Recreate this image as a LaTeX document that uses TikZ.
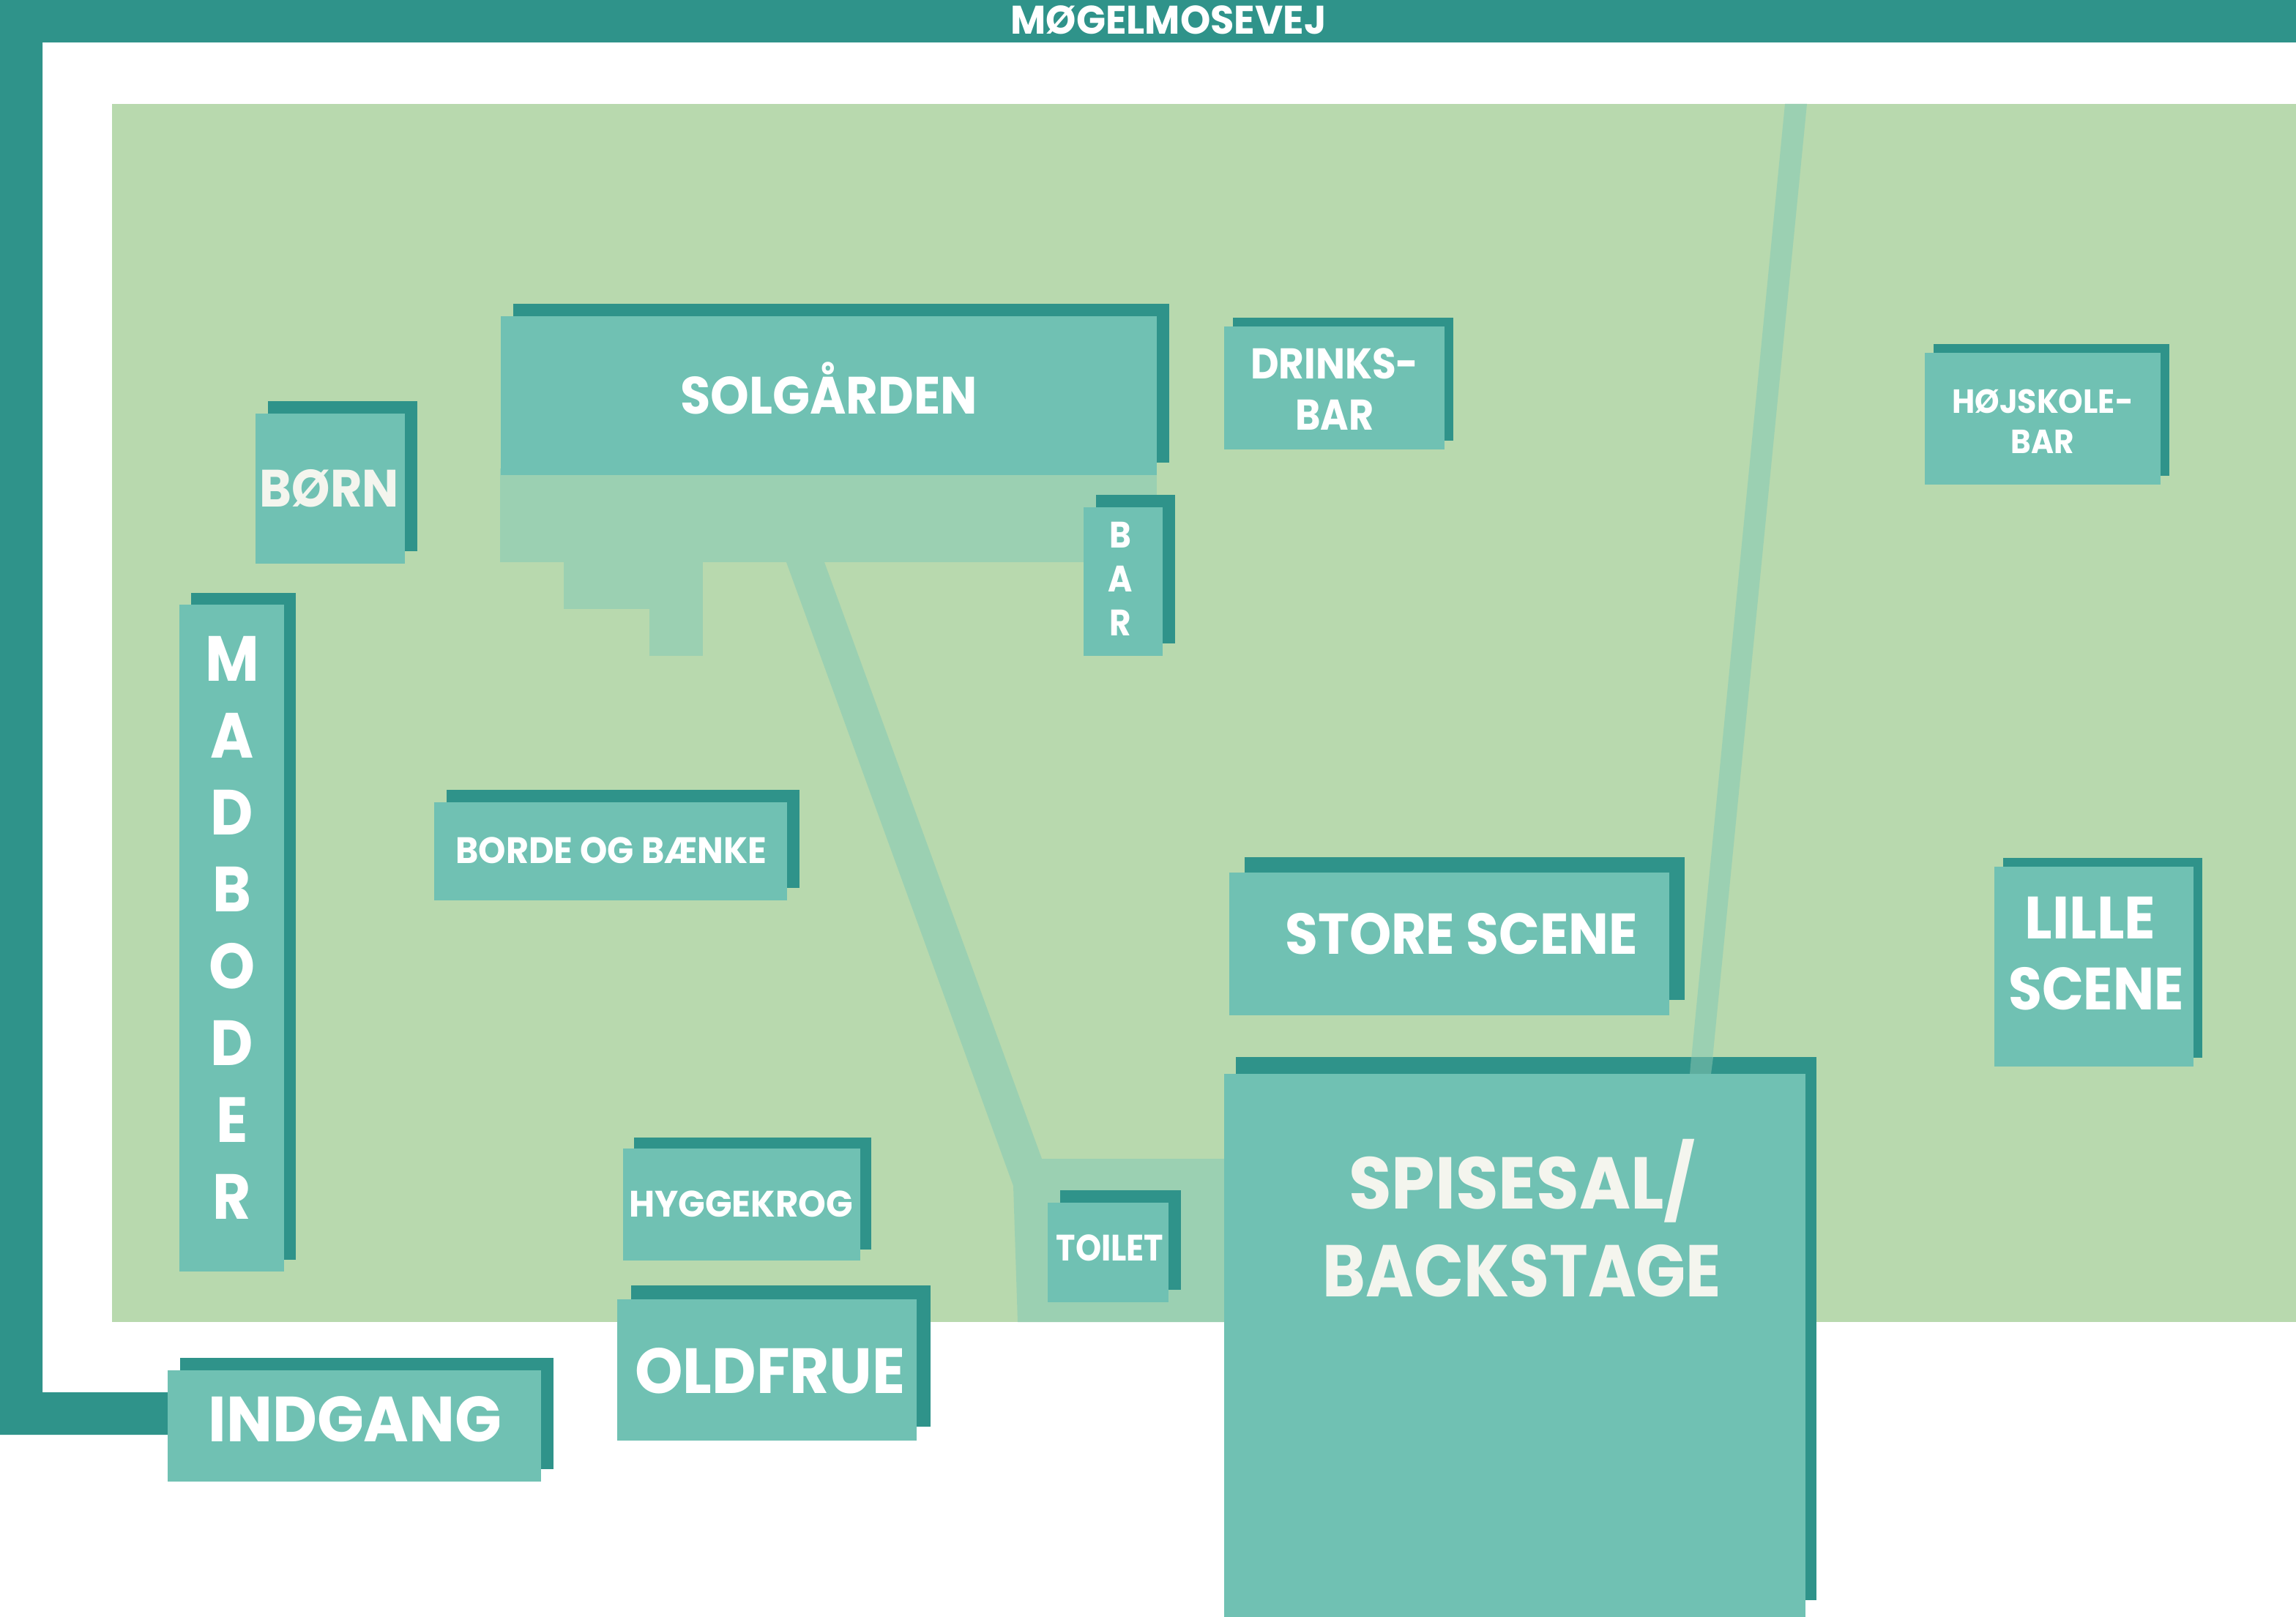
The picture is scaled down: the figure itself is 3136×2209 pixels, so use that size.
\documentclass[tikz,border=0pt]{standalone}
\usepackage{fontspec}
\setmainfont{Poppins}
\definecolor{grass}{HTML}{B8D9AE}
\definecolor{walk}{HTML}{9BD0B2}
\definecolor{walkdark}{HTML}{5DAD9E}
\definecolor{road}{HTML}{2F938A}
\definecolor{house}{HTML}{70C1B3}
\definecolor{cream}{HTML}{F4F5EE}
\tikzset{
	lab/.style={anchor=base, inner sep=0, text=white, transform shape, font=\bfseries\fontsize{#1}{#1}\selectfont},
	lab/.default=10
}
\newcommand{\house}[5]{% x1,y1,x2,y2 of the house, then the offset of its shadow
	\fill [road] (#1+#5,#2-#5) rectangle (#3+#5,#4-#5);
	\fill [house] (#1,#2) rectangle (#3,#4);
}

\begin{document}
\begin{tikzpicture}[x=0.01cm, y=-0.01cm]
	\useasboundingbox (0,0) rectangle (3136,2209);
	%ground
		\fill [grass] (153,142) rectangle (3136,1806);
		%road
		\fill [road] (0,0) -- (3136,0) -- (3136,58) -- (58,58) -- (58,1902) -- (240,1902) -- (240,1960) -- (0,1960) -- cycle;
		%paths
		\fill [walk] (683,640) rectangle (1580,768);
		\fill [walk] (770,768) rectangle (887,832);
		\fill [walk] (887,768) rectangle (960,896);
		\fill [walk] (1074,768) -- (1126,768) -- (1423,1583) -- (1680,1583) -- (1680,1806) -- (1390,1806) -- (1384,1620) -- cycle;
		\fill [walk] (2438,142) -- (2468,142) -- (2337,1467) -- (2308,1467) -- cycle;
	%houses
		\house{684}{432}{1580}{649}{17}
		\house{1480}{693}{1588}{896}{17}
		\house{349}{565}{553}{770}{17}
		\house{245}{826}{388}{1737}{16}
		\house{1672}{446}{1973}{614}{12}
		\house{2629}{482}{2951}{662}{12}
		\house{593}{1096}{1075}{1230}{17}
		\house{1679}{1192}{2280}{1387}{21}
		\house{2724}{1184}{2996}{1457}{12}
		\house{851}{1569}{1175}{1722}{15}
		\house{843}{1775}{1252}{1968}{19}
		\house{229}{1872}{739}{2024}{17}
		\house{1431}{1643}{1596}{1779}{17}
		%big hall
		\fill [road] (1688,1444) rectangle (2481,2186);
		\fill [walkdark] (2310,1444) -- (2340,1444) -- (2337,1467) -- (2308,1467) -- cycle;
		\fill [house] (1672,1467) rectangle (2466,2209);
	%labels
		\node [lab=15.5, xscale=.965] (vej) at (1596,47) {MØGELMOSEVEJ};
		\node [lab=20.4, xscale=.935] (solgaarden) at (1132,565) {SOLGÅRDEN};
		\node [lab=20.4, xscale=.93, text=cream] (born) at (450,692) {BØRN};
		\node [lab=16.7, xscale=.905] (drinks) at (1823,517) {DRINKS-};
		\node [lab=16.7, xscale=.89] (drinksbar) at (1823,587) {BAR};
		\node [lab=13, xscale=.935] (hojskole) at (2790,564) {HØJSKOLE-};
		\node [lab=13, xscale=.92] (hojskolebar) at (2790,619) {BAR};
		\node [lab=14.3, xscale=.945] (borde) at (835,1179) {BORDE OG BÆNKE};
		\node [lab=22.4, xscale=.925] (store) at (1996,1303) {STORE SCENE};
		\node [lab=23.2, xscale=.965] (lille) at (2855,1282) {LILLE};
		\node [lab=23.2, xscale=.915] (scene) at (2863,1379) {SCENE};
		\node [lab=14.3, xscale=.955] (hygge) at (1012,1662) {HYGGEKROG};
		\node [lab=24.8, xscale=.955] (oldfrue) at (1052,1903) {OLDFRUE};
		\node [lab=24.8, xscale=.96] (indgang) at (485,1969) {INDGANG};
		\node [lab=14.3, xscale=.89] (toilet) at (1516,1722) {TOILET};
		\node [lab=28.5, xscale=.95, text=cream] (spisesal) at (2079,1651) {SPISESAL/};
		\node [lab=28.5, xscale=.89, text=cream] (backstage) at (2079,1771) {BACKSTAGE};
		%letters on top of each other
		\foreach \ch [count=\i from 0] in {M,A,D,B,O,D,E,R}
			\node [lab=24.8, xscale=.92] (mad\i) at (317,930+105*\i) {\ch};
		\foreach \ch [count=\i from 0] in {B,A,R}
			\node [lab=14.3, xscale=.9] (bar\i) at (1530,748+60*\i) {\ch};
\end{tikzpicture}
\end{document}
